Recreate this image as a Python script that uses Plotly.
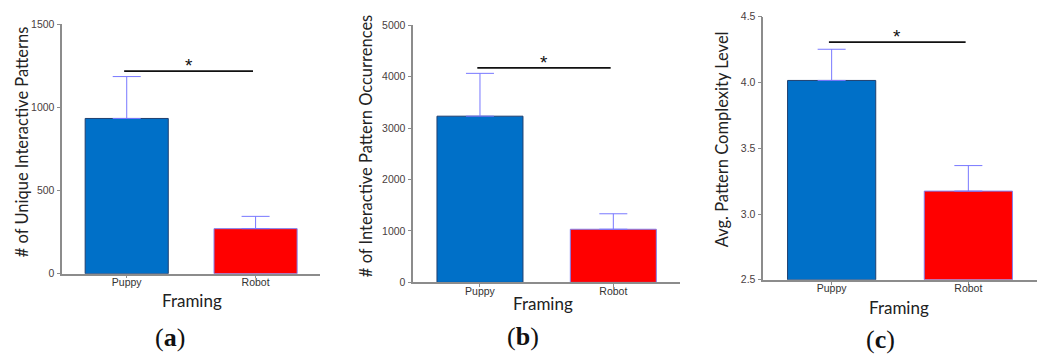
import plotly.graph_objects as go

W, H = 1043, 358

categories = ["Puppy", "Robot"]

# Panel (a)
a_means = [934, 271]
a_errs = [252, 74]
a_sig = 1219
a_range = [0, 1500]
a_ticks = [0, 500, 1000, 1500]
a_ticktext = ["0", "500", "1000", "1500"]
a_title = "# of Unique Interactive Patterns"

# Panel (b)
b_means = [3233, 1034]
b_errs = [833, 301]
b_sig = 4173
b_range = [0, 5000]
b_ticks = [0, 1000, 2000, 3000, 4000, 5000]
b_ticktext = ["0", "1000", "2000", "3000", "4000", "5000"]
b_title = "# of Interactive Pattern Occurrences"

# Panel (c)
c_means = [4.015, 3.174]
c_errs = [0.237, 0.194]
c_sig = 4.306
c_range = [2.5, 4.5]
c_ticks = [2.5, 3.0, 3.5, 4.0, 4.5]
c_ticktext = ["2.5", "3.0", "3.5", "4.0", "4.5"]
c_title = "Avg. Pattern Complexity Level"

xlabel = "Framing"
panel_labels = ["(<b>a</b>)", "(<b>b</b>)", "(<b>c</b>)"]

bar_colors = ["#0070C8", "#FF0000"]
bar_lines = ["#1F3F6F", "#8080F0"]
err_color = "#7878FF"
axis_color = "#8C8C8C"
tick_font = dict(family="Liberation Sans, Arial", size=10.5, color="#4A4040")
title_font = dict(family="Lato, Carlito, Calibri", size=16.5, color="#222222")

def px(x):
    return x / W

def py(y):
    return 1 - y / H

# pixel layout of each panel: (x_left, x_right, y_top, y_bottom)
panels = [
    dict(means=a_means, errs=a_errs, sig=a_sig, rng=a_range, ticks=a_ticks, ticktext=a_ticktext,
         title=a_title, box=(62.3, 320.0, 19.0, 277.0), ytitle=(22, 141), xl=(192, 305), pl=(170, 343)),
    dict(means=b_means, errs=b_errs, sig=b_sig, rng=b_range, ticks=b_ticks, ticktext=b_ticktext,
         title=b_title, box=(413.3, 680.0, 20.0, 286.0), ytitle=(366, 145), xl=(543, 308), pl=(523, 342)),
    dict(means=c_means, errs=c_errs, sig=c_sig, rng=c_range, ticks=c_ticks, ticktext=c_ticktext,
         title=c_title, box=(763.3, 1036.7, 11.0, 283.3), ytitle=(722, 138), xl=(899, 312), pl=(880, 345)),
]

fig = go.Figure()
annotations = []
shapes = []
layout = {}

for i, p in enumerate(panels, start=1):
    xa = "x" if i == 1 else f"x{i}"
    ya = "y" if i == 1 else f"y{i}"
    base = p["rng"][0]
    fig.add_trace(go.Bar(
        x=categories,
        y=[m - base for m in p["means"]],
        base=base,
        width=0.645,
        marker=dict(color=bar_colors, line=dict(color=bar_lines, width=1)),
        error_y=dict(type="data", array=p["errs"], arrayminus=[0, 0], symmetric=False,
                     color=err_color, thickness=1, width=14),
        xaxis=xa, yaxis=ya, showlegend=False, hoverinfo="skip",
    ))
    x0, x1, yt, yb = p["box"]
    xkey = "xaxis" if i == 1 else f"xaxis{i}"
    ykey = "yaxis" if i == 1 else f"yaxis{i}"
    layout[xkey] = dict(
        domain=[px(x0), px(x1)], anchor=ya, range=[-0.5, 1.5],
        showline=True, linecolor=axis_color, linewidth=1.5,
        ticks="outside", ticklen=3, tickcolor=axis_color, tickwidth=1,
        ticklabelstandoff=-5,
        tickfont=dict(family="Liberation Sans, Arial", size=10.5, color="#333333"),
        showgrid=False, zeroline=False, fixedrange=True,
    )
    layout[ykey] = dict(
        domain=[py(yb), py(yt)], anchor=xa, range=p["rng"],
        tickvals=p["ticks"], ticktext=p["ticktext"],
        showline=True, linecolor=axis_color, linewidth=1.5,
        ticks="outside", ticklen=4, tickcolor=axis_color, tickwidth=1,
        tickfont=tick_font, showgrid=False, zeroline=False, fixedrange=True,
    )
    # significance line
    shapes.append(dict(type="line", xref=xa, yref=ya, x0=-0.02, x1=0.98,
                       y0=p["sig"], y1=p["sig"], line=dict(color="#111111", width=1.8)))
    annotations.append(dict(xref=xa, yref=ya, x=0.48, y=p["sig"], text="*",
                            showarrow=False, yanchor="bottom", yshift=-7,
                            font=dict(family="Liberation Sans, Arial", size=19, color="#111111")))
    # y title
    tx, ty = p["ytitle"]
    annotations.append(dict(xref="paper", yref="paper", x=px(tx), y=py(ty), text=p["title"],
                            textangle=-90, showarrow=False, xanchor="center", yanchor="middle",
                            font=title_font))
    # x title
    fx, fy = p["xl"]
    annotations.append(dict(xref="paper", yref="paper", x=px(fx), y=py(fy), text=xlabel,
                            showarrow=False, xanchor="center", yanchor="middle",
                            font=dict(family="Lato, Carlito, Calibri", size=17, color="#222222")))
    lx, ly = p["pl"]
    annotations.append(dict(xref="paper", yref="paper", x=px(lx), y=py(ly), text=panel_labels[i - 1],
                            showarrow=False, xanchor="center", yanchor="middle",
                            font=dict(family="Liberation Serif, Cambria, serif", size=26, color="#111111")))

fig.update_layout(
    width=W, height=H, margin=dict(l=0, r=0, t=0, b=0),
    paper_bgcolor="white", plot_bgcolor="white",
    annotations=annotations, shapes=shapes, bargap=0.35,
    **layout,
)

fig.write_html("out.html")
